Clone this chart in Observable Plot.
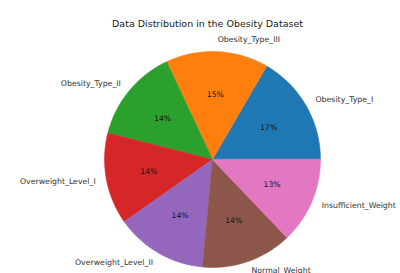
<!DOCTYPE html>
<html>
<head>
<meta charset="utf-8">
<script src="https://cdn.jsdelivr.net/npm/d3@7"></script>
<script src="https://cdn.jsdelivr.net/npm/@observablehq/plot@0.6"></script>
<style>
  html, body { margin: 0; padding: 0; background: #fff; }
  svg { display: block; }
</style>
</head>
<body>
<div id="chart"></div>
<script>
const title = "Data Distribution in the Obesity Dataset";
const categories = ["Obesity_Type_I", "Obesity_Type_III", "Obesity_Type_II", "Overweight_Level_I", "Overweight_Level_II", "Normal_Weight", "Insufficient_Weight"];
const counts = [351, 324, 297, 290, 290, 287, 272];
const colors = ["#1f77b4", "#ff7f0e", "#2ca02c", "#d62728", "#9467bd", "#8c564b", "#e377c2"];

const W = 400, H = 273;
const cx = 212, cy = 159, R = 108; // layout of the pie in pixels

const total = d3.sum(counts);
const slices = [];
const labels = [];
let acc = 0;
categories.forEach((c, i) => {
  const a0 = acc / total * 2 * Math.PI;
  acc += counts[i];
  const a1 = acc / total * 2 * Math.PI;
  const n = Math.max(2, Math.ceil((a1 - a0) / (Math.PI / 180)));
  slices.push({cat: c, x: 0, y: 0});
  for (let k = 0; k <= n; k++) {
    const a = a0 + (a1 - a0) * k / n;
    slices.push({cat: c, x: Math.cos(a), y: Math.sin(a)});
  }
  const am = (a0 + a1) / 2;
  labels.push({
    cat: c,
    pct: Math.round(counts[i] / total * 100) + "%",
    lx: 1.1 * Math.cos(am), ly: 1.1 * Math.sin(am),
    px: 0.6 * Math.cos(am), py: 0.6 * Math.sin(am),
    right: Math.cos(am) >= 0
  });
});

const chart = Plot.plot({
  width: W,
  height: H,
  margin: 0,
  x: {domain: [-cx / R, (W - cx) / R], axis: null},
  y: {domain: [-(H - cy) / R, cy / R], axis: null},
  color: {domain: categories, range: colors},
  style: {fontFamily: "DejaVu Sans, sans-serif", background: "#fff"},
  marks: [
    Plot.line(slices, {x: "x", y: "y", z: "cat", fill: "cat", stroke: "cat", strokeWidth: 0.5, curve: "linear-closed"}),
    Plot.text(labels, {x: "px", y: "py", text: "pct", fontSize: 7.7, fill: "#111"}),
    Plot.text(labels.filter(d => d.right), {x: "lx", y: "ly", text: "cat", fontSize: 7.8, fill: "#333", textAnchor: "start", dy: -1}),
    Plot.text(labels.filter(d => !d.right), {x: "lx", y: "ly", text: "cat", fontSize: 7.8, fill: "#333", textAnchor: "end"}),
    Plot.text([title], {frameAnchor: "top", dx: 7, dy: 20, text: d => d, fontSize: 9.5, fill: "#1a1a1a"})
  ]
});
document.getElementById("chart").appendChild(chart);
</script>
</body>
</html>
